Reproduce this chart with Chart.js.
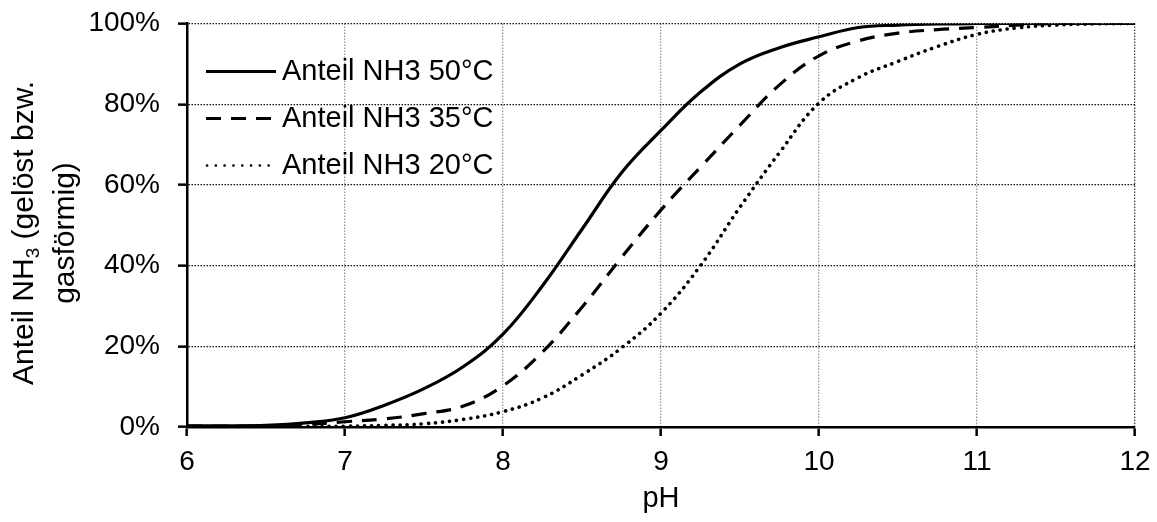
<!DOCTYPE html>
<html>
<head>
<meta charset="utf-8">
<script src="https://cdn.jsdelivr.net/npm/chart.js@4"></script>
<style>
  html, body { margin: 0; padding: 0; background: #fff; }
  #wrap { width: 1157px; height: 522px; }
</style>
</head>
<body>
<div id="wrap"><canvas id="myChart" width="1157" height="522"></canvas></div>
<script>
// pH values and share of NH3 (%)
const ph = [6, 6.25, 6.5, 6.75, 7, 7.25, 7.5, 7.75, 8, 8.25, 8.5, 8.75, 9, 9.25, 9.5, 9.75, 10, 10.25, 10.5, 10.75, 11, 11.25, 11.5, 11.75, 12];
const nh3_50 = [0.3, 0.3, 0.4, 1.0, 2.3, 5.4, 9.5, 15, 23, 35, 49, 63, 73.5, 83, 90, 94, 96.7, 99, 99.6, 99.9, 100, 100, 100, 100, 100];
const nh3_35 = [0.2, 0.2, 0.3, 0.6, 1.3, 2.0, 3.3, 5.2, 10.2, 18.6, 29.7, 42, 53.8, 64.4, 74.8, 84.8, 92, 95.7, 97.6, 98.5, 99, 99.6, 100, 100, 100];
const nh3_20 = [0, 0, 0, 0.1, 0.2, 0.4, 0.8, 1.9, 3.8, 7.2, 12.9, 19.6, 28.2, 40, 54.5, 68, 80.3, 86.6, 90.6, 94.3, 97.3, 98.9, 99.6, 99.9, 100];
const seriesNames = ['Anteil NH3 50°C', 'Anteil NH3 35°C', 'Anteil NH3 20°C'];
const xTicks = [6, 7, 8, 9, 10, 11, 12];
const yTicks = [0, 20, 40, 60, 80, 100];

const FONT = '"Liberation Sans", Arial, sans-serif';
const dashes = [[], [15, 10], [0.1, 7]];

function pts(vals) {
  return ph.map((x, i) => ({ x: x, y: vals[i] }));
}

// legend and axis titles drawn by hand (legend sits inside the plot, title has a subscript)
const extras = {
  id: 'extras',
  afterDraw(chart) {
    const ctx = chart.ctx;
    const area = chart.chartArea;
    ctx.save();
    ctx.fillStyle = '#000';
    ctx.strokeStyle = '#000';
    ctx.font = '29px ' + FONT;
    ctx.textBaseline = 'middle';

    // legend
    const lx = area.left + 19, ly = area.top + 48, step = 47;
    chart.data.datasets.forEach((ds, i) => {
      const y = ly + i * step;
      ctx.beginPath();
      ctx.lineWidth = i == 2 ? 2.6 : 3;
      ctx.lineCap = i == 2 ? 'round' : 'butt';
      ctx.setLineDash(i == 2 ? [0.1, 8.7] : dashes[i]);
      ctx.moveTo(lx + (i == 2 ? 1 : 0), y);
      ctx.lineTo(lx + 70, y);
      ctx.stroke();
      ctx.setLineDash([]);
      ctx.textAlign = 'left';
      ctx.fillText(ds.label, lx + 76, y);
    });

    // x title
    ctx.textAlign = 'center';
    ctx.font = '29px ' + FONT;
    ctx.fillText('pH', (area.left + area.right) / 2, 499);

    // y title, two lines, rotated
    ctx.translate(0, 233);
    ctx.rotate(-Math.PI / 2);
    const a = 'Anteil NH', s = '3', b = ' (gelöst bzw.';
    ctx.font = '30px ' + FONT;
    const wa = ctx.measureText(a).width, wb = ctx.measureText(b).width;
    ctx.font = '19px ' + FONT;
    const ws = ctx.measureText(s).width;
    const total = wa + ws + wb;
    let x0 = -total / 2;
    ctx.textAlign = 'left';
    ctx.font = '30px ' + FONT;
    ctx.fillText(a, x0, 25);
    ctx.font = '19px ' + FONT;
    ctx.fillText(s, x0 + wa, 34);
    ctx.font = '30px ' + FONT;
    ctx.fillText(b, x0 + wa + ws, 25);
    ctx.textAlign = 'center';
    ctx.fillText('gasförmig)', 0, 66);
    ctx.restore();
  }
};

const ctx = document.getElementById('myChart').getContext('2d');
new Chart(ctx, {
  type: 'line',
  data: {
    datasets: [
      { label: seriesNames[0], data: pts(nh3_50), borderDash: dashes[0], borderWidth: 3.2 },
      { label: seriesNames[1], data: pts(nh3_35), borderDash: dashes[1], borderWidth: 3.2 },
      { label: seriesNames[2], data: pts(nh3_20), borderDash: dashes[2], borderWidth: 3.6, borderCapStyle: 'round' }
    ].map(d => Object.assign({
      borderColor: '#000',
      pointRadius: 0,
      fill: false,
      tension: 0.4
    }, d))
  },
  options: {
    responsive: false,
    animation: false,
    layout: { padding: { top: 23.5, right: 22, left: 0, bottom: 0 } },
    plugins: { legend: { display: false }, tooltip: { enabled: false } },
    scales: {
      x: {
        type: 'linear',
        min: 6, max: 12,
        afterBuildTicks: s => { s.ticks = xTicks.map(v => ({ value: v })); },
        afterFit: s => { s.height = 95; s.paddingLeft = 0; s.paddingRight = 0; },
        border: { color: '#000', width: 2.5, dash: [1.5, 1.5] },
        grid: {
          color: c => c.tick && c.tick.value == 12 ? '#444' : '#999',
          lineWidth: 1.3,
          tickLength: 9,
          tickColor: '#000',
          tickWidth: 2.5,
          tickBorderDash: []
        },
        ticks: {
          color: '#000',
          font: { family: FONT, size: 28 },
          padding: 9,
          maxRotation: 0
        }
      },
      y: {
        min: 0, max: 100,
        afterBuildTicks: s => { s.ticks = yTicks.map(v => ({ value: v })); },
        afterFit: s => { s.width = 187; s.paddingTop = 0; s.paddingBottom = 0; },
        border: { color: '#000', width: 2.5, dash: [1.5, 1.5] },
        grid: {
          color: '#111',
          lineWidth: 1.3,
          tickLength: 9,
          tickColor: '#000',
          tickWidth: 2.5,
          tickBorderDash: []
        },
        ticks: {
          color: '#000',
          font: { family: FONT, size: 28 },
          padding: 18,
          callback: v => v + '%'
        }
      }
    }
  },
  plugins: [extras]
});
</script>
</body>
</html>
